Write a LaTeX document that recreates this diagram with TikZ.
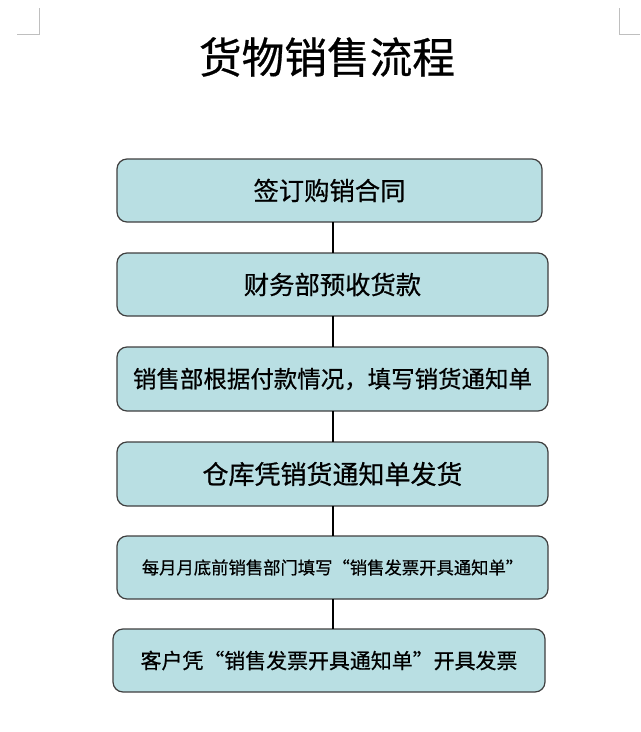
\documentclass[tikz,border=0pt]{standalone}
\usepackage{fontspec}
\setmainfont{Noto Sans CJK SC}[FakeBold=0.6]
\definecolor{boxfill}{HTML}{B9DFE3}
\definecolor{boxline}{HTML}{3F3F3F}
\definecolor{markgray}{HTML}{BFBFBF}
\begin{document}
\begin{tikzpicture}[x=0.75pt,y=-0.75pt,
  stepbox/.style={draw=boxline,fill=boxfill,line width=0.9pt,rounded corners=7.5pt,
    inner sep=0pt,outer sep=0pt,align=center},
  link/.style={line width=2.2pt,black},
  cornermark/.style={markgray,line width=0.75pt}]
\useasboundingbox (0,0) rectangle (640,732);
% corner marks
\draw[cornermark] (17,34) -- (39,34) -- (39,8);
\draw[cornermark] (619,8) -- (619,34) -- (640,34);
% title
\node (title) at (327,57) {\fontsize{32pt}{36pt}\selectfont 货物销售流程};
% boxes
\node[stepbox,minimum width=318.75pt,minimum height=47.25pt] (b1) at (329.5,190.5)
  {\fontsize{19pt}{22pt}\selectfont 签订购销合同};
\node[stepbox,minimum width=323.25pt,minimum height=47.25pt] (b2) at (332.5,284.5)
  {\fontsize{19pt}{22pt}\selectfont 财务部预收货款};
\node[stepbox,minimum width=323.25pt,minimum height=48pt] (b3) at (332.5,379)
  {\fontsize{17.6pt}{21pt}\selectfont 销售部根据付款情况，填写销货通知单};
\node[stepbox,minimum width=323.25pt,minimum height=48pt] (b4) at (332.5,474)
  {\fontsize{19.5pt}{22pt}\selectfont 仓库凭销货通知单发货};
\node[stepbox,minimum width=323.25pt,minimum height=47.25pt] (b5) at (332.5,567.5)
  {\fontsize{13pt}{16pt}\selectfont 每月月底前销售部门填写“销售发票开具通知单”};
\node[stepbox,minimum width=324pt,minimum height=47.25pt] (b6) at (329,660.5)
  {\fontsize{15.7pt}{19pt}\selectfont 客户凭“销售发票开具通知单”开具发票};
% connectors
\coordinate (cx) at (333,0);
\draw[link] (b1.south -| cx) -- (b2.north -| cx);
\draw[link] (b2.south -| cx) -- (b3.north -| cx);
\draw[link] (b3.south -| cx) -- (b4.north -| cx);
\draw[link] (b4.south -| cx) -- (b5.north -| cx);
\draw[link] (b5.south -| cx) -- (b6.north -| cx);
\end{tikzpicture}
\end{document}
